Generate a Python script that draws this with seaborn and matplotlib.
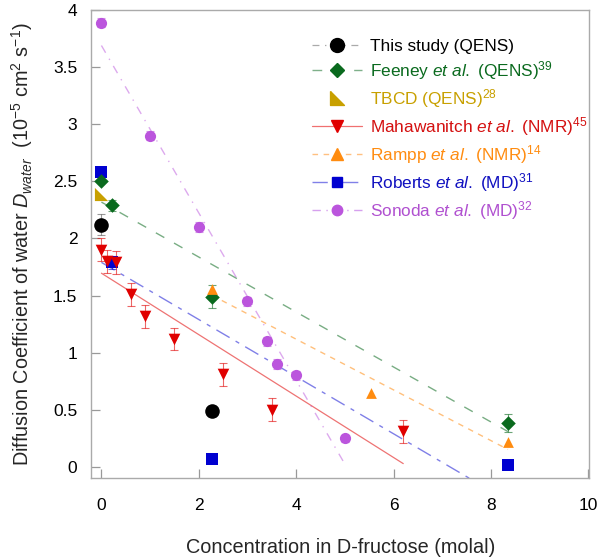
import numpy as np
import pandas as pd
import matplotlib
matplotlib.use("Agg")
import matplotlib.pyplot as plt
import seaborn as sns
from matplotlib.lines import Line2D

# ---------------- data ----------------
this_x = [0.0, 2.27]
this_y = [2.12, 0.49]
this_err = [0.09, 0.0]

feeney_x = [0.0, 0.22, 2.27, 8.35]
feeney_y = [2.50, 2.29, 1.49, 0.385]
feeney_err = [0.0, 0.05, 0.10, 0.08]

tbcd_x = [0.0]
tbcd_y = [2.39]

maha_x = [0.0, 0.12, 0.30, 0.60, 0.90, 1.50, 2.50, 3.50, 6.20]
maha_y = [1.90, 1.80, 1.79, 1.51, 1.32, 1.12, 0.81, 0.50, 0.31]
maha_err = [0.10, 0.10, 0.10, 0.10, 0.10, 0.10, 0.10, 0.10, 0.10]

rampp_x = [2.27, 5.54, 8.35]
rampp_y = [1.56, 0.65, 0.22]

roberts_x = [0.0, 0.22, 2.27, 8.35]
roberts_y = [2.58, 1.79, 0.065, 0.015]
roberts_err = [0.0, 0.06, 0.0, 0.0]

sonoda_x = [0.0, 1.0, 2.0, 3.0, 3.4, 3.6, 4.0, 5.0]
sonoda_y = [3.89, 2.90, 2.10, 1.45, 1.10, 0.90, 0.80, 0.25]
sonoda_err = [0.04, 0.04, 0.04, 0.04, 0.04, 0.04, 0.04, 0.03]

x_ticks = [0, 2, 4, 6, 8, 10]
y_ticks = [0, 0.5, 1, 1.5, 2, 2.5, 3, 3.5, 4]
y_ticklabels = ["0", "0.5", "1", "1.5", "2", "2.5", "3", "3.5", "4"]

# ---------------- style ----------------
sns.set_style("ticks")
plt.rcParams["font.family"] = ["Liberation Sans", "DejaVu Sans"]
plt.rcParams["mathtext.fontset"] = "custom"
plt.rcParams["mathtext.rm"] = "Liberation Sans"
plt.rcParams["mathtext.it"] = "Liberation Sans:italic"
plt.rcParams["mathtext.bf"] = "Liberation Sans:bold"
plt.rcParams["lines.scale_dashes"] = False

fig = plt.figure(figsize=(6.0, 5.6), dpi=100)
ax = fig.add_axes([0.152, 0.146, 0.830, 0.836])

C_BLACK = "#000000"
C_GREEN = "#0a6a1e"
C_GOLD = "#c8a000"
C_RED = "#e00000"
C_ORANGE = "#ff8c10"
C_BLUE = "#0000d0"
C_PURPLE = "#bb55dd"

def fit_line(xs, ys, color, dashes, lw=1.0, alpha=0.55):
    xs = np.asarray(xs); ys = np.asarray(ys)
    k, b = np.polyfit(xs, ys, 1)
    gx = np.array([xs.min(), xs.max()])
    df = pd.DataFrame({"x": gx, "y": k * gx + b})
    sns.lineplot(data=df, x="x", y="y", ax=ax, color=color, lw=lw,
                 alpha=alpha, estimator=None, sort=False, zorder=1)
    ln = ax.lines[-1]
    if dashes is not None:
        ln.set_dashes(dashes)
    return ln

fit_line(feeney_x, feeney_y, C_GREEN, (7, 8))
fit_line(maha_x, maha_y, C_RED, None, lw=0.9)
fit_line(rampp_x, rampp_y, C_ORANGE, (4, 4))
fit_line(roberts_x, roberts_y, C_BLUE, (11, 5, 3, 5), alpha=0.5)
fit_line(sonoda_x, sonoda_y, C_PURPLE, (6, 5, 1, 5), alpha=0.5)

def errs(xs, ys, e, color):
    ax.errorbar(xs, ys, yerr=e, fmt="none", ecolor=color, elinewidth=0.8,
                capsize=3, capthick=0.8, alpha=0.6, zorder=2)

errs(this_x, this_y, this_err, "#555555")
errs(feeney_x, feeney_y, feeney_err, C_GREEN)
errs(maha_x, maha_y, maha_err, C_RED)
errs(roberts_x, roberts_y, roberts_err, C_BLUE)
errs(sonoda_x, sonoda_y, sonoda_err, C_PURPLE)

TBCD_MARK = [(-1, 1), (-1, -1), (1, -1), (-1, 1)]

def pts(xs, ys, marker, s, color):
    sns.scatterplot(x=xs, y=ys, marker=marker, s=s, color=color,
                    edgecolor=color, linewidth=0, ax=ax, zorder=3, legend=False)

pts(roberts_x, roberts_y, "s", 75, C_BLUE)
pts(this_x, this_y, "o", 110, C_BLACK)
pts(feeney_x, feeney_y, "D", 55, C_GREEN)
pts(tbcd_x, tbcd_y, TBCD_MARK, 90, C_GOLD)
pts(maha_x, maha_y, "v", 70, C_RED)
pts(rampp_x, rampp_y, "^", 60, C_ORANGE)
pts(sonoda_x, sonoda_y, "o", 65, C_PURPLE)

ax.set_xlim(-0.21, 10.02)
ax.set_ylim(-0.1, 4.0)
ax.set_xticks(x_ticks)
ax.set_yticks(y_ticks)
ax.set_yticklabels(y_ticklabels)
ax.tick_params(direction="in", length=6.5, width=0.9, color="#999999",
               labelsize=12.5, labelcolor="black", bottom=True, left=True,
               top=False, right=False)
ax.tick_params(axis="x", pad=14)
ax.tick_params(axis="y", pad=10)
for sp in ax.spines.values():
    sp.set_visible(True)
    sp.set_color("#aaaaaa")
    sp.set_linewidth(1.0)

ax.set_xlabel("Concentration in D-fructose (molal)", fontsize=14.3, labelpad=18)
ax.set_ylabel(r"Diffusion Coefficient of water $\mathit{D}_{\mathit{water}}$  (10$^{-5}$ cm$^{2}$ s$^{-1}$)",
              fontsize=14.3, labelpad=13)

handles = [
    Line2D([], [], color="#aaaaaa", ls=(0, (5, 4, 1, 4)), lw=0.9, marker="o", ms=10,
           mfc=C_BLACK, mec=C_BLACK),
    Line2D([], [], color="#7fb08a", ls=(0, (7, 8)), lw=1.0, marker="D", ms=7,
           mfc=C_GREEN, mec=C_GREEN),
    Line2D([], [], color="none", marker=TBCD_MARK, ms=10, mfc=C_GOLD, mec=C_GOLD),
    Line2D([], [], color="#f07070", lw=0.9, marker="v", ms=8.5, mfc=C_RED, mec=C_RED),
    Line2D([], [], color="#ffc080", ls=(0, (4, 4)), lw=1.0, marker="^", ms=8,
           mfc=C_ORANGE, mec=C_ORANGE),
    Line2D([], [], color="#8080e8", ls=(0, (11, 4, 3, 4)), lw=1.0, marker="s", ms=7.5,
           mfc=C_BLUE, mec=C_BLUE),
    Line2D([], [], color="#d6a0ee", ls=(0, (6, 4, 1, 4)), lw=1.0, marker="o", ms=7.5,
           mfc=C_PURPLE, mec=C_PURPLE),
]
labels = [
    "This study (QENS)",
    r"Feeney $\mathit{et\ al.}$ (QENS)$^{39}$",
    r"TBCD (QENS)$^{28}$",
    r"Mahawanitch $\mathit{et\ al.}$ (NMR)$^{45}$",
    r"Rampp $\mathit{et\ al.}$ (NMR)$^{14}$",
    r"Roberts $\mathit{et\ al.}$ (MD)$^{31}$",
    r"Sonoda $\mathit{et\ al.}$ (MD)$^{32}$",
]
text_colors = [C_BLACK, C_GREEN, C_GOLD, "#d41010", C_ORANGE, "#1010c0", "#b050d0"]
leg = ax.legend(handles, labels, loc="upper left", bbox_to_anchor=(0.52, 0.931),
                bbox_transform=fig.transFigure, frameon=False, fontsize=12.4,
                handlelength=2.9, handletextpad=0.45, labelspacing=0.3,
                borderaxespad=0, borderpad=0)
for t, c in zip(leg.get_texts(), text_colors):
    t.set_color(c)

fig.savefig("out.png", dpi=100)
